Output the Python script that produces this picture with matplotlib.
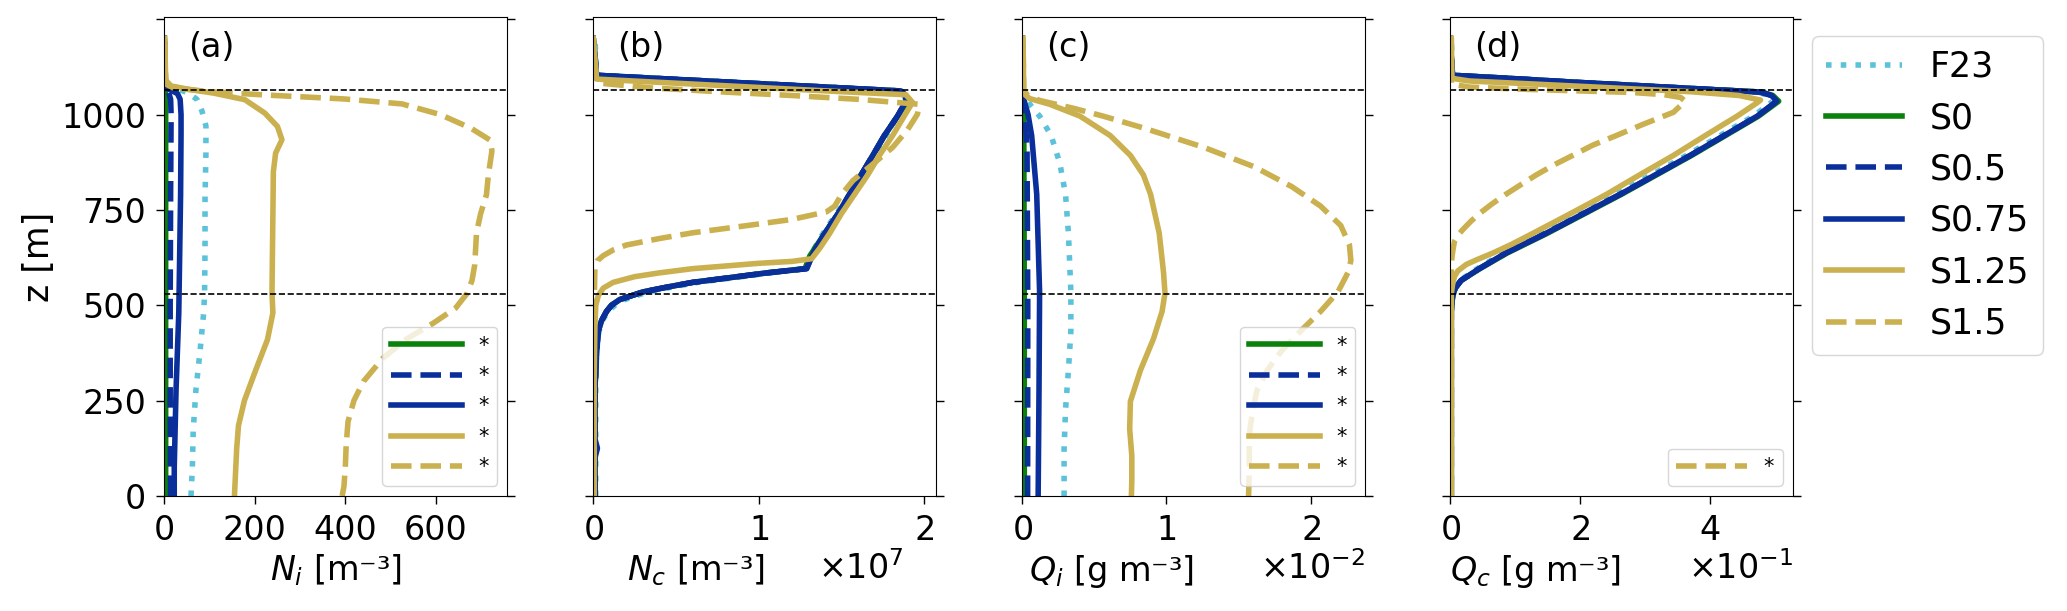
import numpy as np
import matplotlib
matplotlib.use('Agg')
import matplotlib.pyplot as plt
from matplotlib.ticker import ScalarFormatter

# reference heights (dashed lines) [m]
z_top = 1065
z_base = 530

series = ['F23', 'S0', 'S0.5', 'S0.75', 'S1.25', 'S1.5']
colors = ['#5bc2da', '#0b800b', '#0a2e9a', '#0a2e9a', '#cab04e', '#cab04e']
styles = [':', '-', '--', '-', '-', '--']

# ---- (a) ice number N_i [m-3], pairs of (z [m], value) ----
ni_f23 = [(0, 59), (75, 62), (175, 64), (280, 70), (380, 79), (480, 87), (530, 89), (650, 90),
          (780, 90), (900, 92), (970, 92), (1010, 83), (1040, 72), (1055, 55), (1065, 35),
          (1072, 8), (1080, 2), (1200, 1)]
ni_s0 = [(0, 3), (500, 3), (1000, 3), (1060, 2), (1070, 0.5), (1200, 0)]
ni_s05 = [(0, 14), (250, 13), (500, 13), (800, 14), (1000, 15), (1040, 14), (1060, 9),
          (1068, 2), (1200, 0)]
ni_s075 = [(0, 22), (75, 22), (280, 26), (480, 32), (790, 36), (950, 37), (1000, 37),
           (1040, 35), (1055, 29), (1064, 14), (1070, 3), (1200, 0)]
ni_s125 = [(0, 155), (125, 160), (185, 164), (250, 177), (330, 202), (410, 228), (480, 240),
           (531, 238), (640, 239), (740, 240), (850, 241), (899, 246), (934, 260), (969, 250),
           (1004, 222), (1039, 178), (1056, 110), (1066, 55), (1075, 15), (1090, 3), (1200, 1)]
ni_s15 = [(0, 393), (25, 397), (75, 400), (135, 402), (195, 406), (250, 419), (300, 440),
          (360, 482), (410, 533), (452, 593), (493, 644), (531, 669), (565, 680), (606, 686),
          (690, 690), (740, 699), (790, 712), (840, 716), (905, 724), (933, 720), (964, 678),
          (1000, 610), (1028, 525), (1041, 397), (1051, 228), (1060, 100), (1070, 20),
          (1080, 3), (1200, 1)]

# ---- (b) droplet number N_c [1e7 m-3] ----
nc_f23 = [(0, 0.015), (280, 0.015), (380, 0.02), (432, 0.035), (460, 0.055), (484, 0.09),
          (500, 0.13), (515, 0.19), (535, 0.33), (548, 0.48), (560, 0.63), (571, 0.83),
          (585, 1.07), (596, 1.28), (637, 1.32), (689, 1.39), (740, 1.47), (791, 1.55),
          (842, 1.62), (893, 1.70), (945, 1.77), (996, 1.84), (1035, 1.89), (1050, 1.88),
          (1062, 1.84), (1070, 1.5), (1080, 1.05), (1090, 0.6), (1103, 0.02), (1200, 0.01)]
nc_s0 = [(0, 0.01), (280, 0.01), (380, 0.02), (432, 0.03), (460, 0.05), (484, 0.08),
         (500, 0.11), (515, 0.16), (535, 0.3), (548, 0.45), (560, 0.6), (571, 0.8),
         (585, 1.05), (596, 1.28), (630, 1.31), (689, 1.40), (740, 1.48), (791, 1.55),
         (842, 1.62), (893, 1.69), (945, 1.76), (996, 1.84), (1035, 1.90), (1050, 1.89),
         (1062, 1.85), (1070, 1.5), (1080, 1.05), (1090, 0.6), (1103, 0.02), (1200, 0)]
nc_s05 = [(0, 0.01), (280, 0.01), (380, 0.02), (432, 0.03), (460, 0.05), (484, 0.08),
          (500, 0.11), (515, 0.16), (535, 0.3), (548, 0.45), (560, 0.6), (571, 0.8),
          (585, 1.05), (596, 1.29), (637, 1.33), (689, 1.40), (740, 1.48), (791, 1.55),
          (842, 1.62), (893, 1.69), (945, 1.76), (996, 1.84), (1035, 1.89), (1050, 1.89),
          (1062, 1.85), (1070, 1.5), (1080, 1.05), (1090, 0.6), (1103, 0.02), (1200, 0)]
nc_s075 = [(0, 0.01), (100, 0.01), (125, 0.025), (150, 0.01), (280, 0.01), (380, 0.02),
           (432, 0.03), (460, 0.05), (484, 0.08), (500, 0.11), (515, 0.16), (535, 0.3),
           (548, 0.45), (560, 0.6), (571, 0.8), (585, 1.05), (596, 1.29), (637, 1.33),
           (689, 1.40), (740, 1.48), (791, 1.55), (842, 1.62), (893, 1.69), (945, 1.76),
           (996, 1.84), (1035, 1.89), (1050, 1.89), (1062, 1.86), (1070, 1.5), (1080, 1.05),
           (1090, 0.6), (1103, 0.02), (1200, 0)]
nc_s125 = [(0, 0.005), (300, 0.005), (450, 0.01), (500, 0.015), (525, 0.03), (545, 0.06),
           (560, 0.12), (575, 0.25), (585, 0.4), (596, 0.6), (603, 0.8), (610, 1.0),
           (615, 1.2), (622, 1.32), (650, 1.37), (689, 1.43), (740, 1.50), (791, 1.58),
           (842, 1.66), (893, 1.73), (945, 1.81), (996, 1.88), (1032, 1.93), (1052, 1.89),
           (1060, 1.5), (1070, 1.05), (1080, 0.6), (1093, 0.02), (1200, 0)]
nc_s15 = [(0, 0.005), (500, 0.005), (600, 0.01), (617, 0.025), (630, 0.06), (645, 0.12),
          (658, 0.2), (675, 0.4), (690, 0.6), (709, 0.93), (725, 1.2), (745, 1.41),
          (760, 1.46), (790, 1.5), (827, 1.57), (870, 1.69), (914, 1.81), (960, 1.9),
          (1001, 1.96), (1027, 1.97), (1040, 1.6), (1050, 1.2), (1060, 0.75), (1070, 0.35),
          (1083, 0.02), (1200, 0)]

# ---- (c) ice mass Q_i [1e-2 g m-3] ----
qi_f23 = [(0, 0.29), (125, 0.29), (227, 0.30), (330, 0.32), (432, 0.337), (535, 0.337),
          (689, 0.32), (791, 0.30), (873, 0.26), (945, 0.20), (996, 0.12), (1037, 0.03),
          (1055, 0.005), (1200, 0.005)]
qi_s0 = [(0, 0.014), (500, 0.014), (1000, 0.01), (1050, 0.002), (1200, 0)]
qi_s05 = [(0, 0.037), (500, 0.038), (900, 0.033), (1000, 0.02), (1045, 0.005), (1200, 0)]
qi_s075 = [(0, 0.11), (280, 0.116), (535, 0.12), (791, 0.10), (945, 0.065), (1000, 0.04),
           (1040, 0.01), (1055, 0.0), (1200, 0)]
qi_s125 = [(0, 0.757), (43, 0.76), (105, 0.76), (176, 0.745), (248, 0.75), (330, 0.82),
           (412, 0.91), (484, 0.97), (532, 0.99), (586, 0.98), (689, 0.95), (791, 0.89),
           (842, 0.84), (893, 0.75), (945, 0.61), (996, 0.40), (1027, 0.19), (1042, 0.05),
           (1055, 0.01), (1200, 0.005)]
qi_s15 = [(0, 1.57), (74, 1.575), (125, 1.575), (176, 1.58), (227, 1.60), (279, 1.63),
          (330, 1.70), (381, 1.80), (432, 1.93), (484, 2.07), (535, 2.19), (586, 2.26),
          (617, 2.28), (658, 2.27), (709, 2.21), (760, 2.07), (811, 1.87), (863, 1.61),
          (914, 1.26), (965, 0.84), (996, 0.56), (1016, 0.36), (1037, 0.12), (1050, 0.04),
          (1062, 0.01), (1200, 0.005)]

# ---- (d) cloud water Q_c [1e-1 g m-3] ----
qc_f23 = [(0, 0.02), (484, 0.02), (510, 0.03), (530, 0.05), (545, 0.08), (565, 0.15),
          (596, 0.42), (637, 0.82), (689, 1.42), (740, 1.99), (791, 2.56), (842, 3.10),
          (893, 3.64), (945, 4.16), (996, 4.67), (1035, 4.97), (1050, 4.9), (1059, 4.74),
          (1065, 4.1), (1075, 3.0), (1085, 1.9), (1095, 0.9), (1103, 0.04), (1200, 0.02)]
qc_s0 = [(0, 0.02), (484, 0.02), (510, 0.03), (530, 0.05), (545, 0.08), (565, 0.17),
         (596, 0.46), (637, 0.88), (689, 1.50), (740, 2.07), (791, 2.64), (842, 3.18),
         (893, 3.72), (945, 4.24), (996, 4.75), (1035, 5.06), (1050, 4.97), (1059, 4.8),
         (1065, 4.1), (1075, 3.0), (1085, 1.9), (1095, 0.9), (1103, 0.04), (1200, 0)]
qc_s05 = [(0, 0.02), (484, 0.02), (510, 0.03), (530, 0.05), (545, 0.08), (565, 0.17),
          (596, 0.45), (637, 0.86), (689, 1.48), (740, 2.05), (791, 2.62), (842, 3.16),
          (893, 3.70), (945, 4.22), (996, 4.73), (1035, 5.03), (1050, 4.95), (1059, 4.78),
          (1065, 4.1), (1075, 3.0), (1085, 1.9), (1095, 0.9), (1103, 0.04), (1200, 0)]
qc_s075 = [(0, 0.02), (300, 0.02), (484, 0.02), (510, 0.03), (530, 0.05), (545, 0.08),
           (565, 0.17), (596, 0.45), (637, 0.86), (689, 1.48), (740, 2.05), (791, 2.62),
           (842, 3.16), (893, 3.70), (945, 4.22), (996, 4.73), (1035, 5.03), (1050, 4.95),
           (1059, 4.78), (1065, 4.1), (1075, 3.0), (1085, 1.9), (1095, 0.9), (1103, 0.04),
           (1200, 0)]
qc_s125 = [(0, 0.02), (530, 0.02), (555, 0.04), (576, 0.07), (590, 0.12), (607, 0.25),
           (620, 0.42), (637, 0.66), (660, 0.95), (689, 1.28), (740, 1.85), (791, 2.41),
           (842, 2.92), (893, 3.44), (945, 3.93), (996, 4.42), (1030, 4.72), (1038, 4.78),
           (1050, 4.45), (1060, 3.7), (1070, 2.5), (1080, 1.3), (1088, 0.3), (1095, 0.03),
           (1200, 0.02)]
qc_s15 = [(0, 0.02), (600, 0.02), (627, 0.03), (650, 0.05), (668, 0.07), (685, 0.13),
          (699, 0.2), (720, 0.32), (740, 0.45), (765, 0.64), (791, 0.86), (815, 1.08),
          (842, 1.33), (868, 1.6), (893, 1.89), (920, 2.2), (945, 2.56), (975, 2.98),
          (1006, 3.44), (1035, 3.62), (1045, 3.55), (1052, 3.3), (1058, 2.8), (1062, 2.0),
          (1066, 1.2), (1072, 0.3), (1080, 0.02), (1200, 0.02)]

panel_data = [
    [ni_f23, ni_s0, ni_s05, ni_s075, ni_s125, ni_s15],
    [nc_f23, nc_s0, nc_s05, nc_s075, nc_s125, nc_s15],
    [qi_f23, qi_s0, qi_s05, qi_s075, qi_s125, qi_s15],
    [qc_f23, qc_s0, qc_s05, qc_s075, qc_s125, qc_s15],
]
panel_scale = [1, 1e7, 1e-2, 1e-1]
panel_xlim = [758, 2.074e7, 0.0238, 0.528]
panel_xticks = [[0, 200, 400, 600], [0, 1e7, 2e7], [0, 0.01, 0.02], [0, 0.2, 0.4]]
panel_labels = ['(a)', '(b)', '(c)', '(d)']
xlabels = ['$N_i$ [m⁻³]', '$N_c$ [m⁻³]', '$Q_i$ [g m⁻³]', '$Q_c$ [g m⁻³]']

W, H = 2067, 611
fig = plt.figure(figsize=(W / 100, H / 100), dpi=100)
lefts = [164.3, 593.3, 1022.3, 1450]

for k in range(4):
    ax = fig.add_axes([lefts[k] / W, (H - 496) / H, 343 / W, 478.7 / H])
    lines = []
    for prof, c, ls, name in zip(panel_data[k], colors, styles, series):
        arr = np.array(prof, dtype=float)
        ln, = ax.plot(arr[:, 1] * panel_scale[k], arr[:, 0], color=c, ls=ls, lw=4, label=name)
        lines.append(ln)
    ax.axhline(z_top, color='k', ls='--', lw=1.2, zorder=5)
    ax.axhline(z_base, color='k', ls='--', lw=1.2, zorder=5)
    ax.set_xlim(0, panel_xlim[k])
    ax.set_ylim(0, 1255)
    ax.set_xticks(panel_xticks[k])
    ax.set_yticks([0, 250, 500, 750, 1000, 1250])
    ax.tick_params(axis='both', labelsize=24, length=6, width=1, pad=7)
    ax.tick_params(axis='y', right=True)
    ax.set_xlabel(xlabels[k], fontsize=24)
    if k == 0:
        ax.set_yticklabels(['0', '250', '500', '750', '1000', ''])
        ax.set_ylabel('z [m]', fontsize=25)
        main_lines = lines
    else:
        ax.tick_params(axis='y', labelleft=False)
        fmt = ScalarFormatter(useMathText=True)
        fmt.set_powerlimits((0, 0))
        ax.xaxis.set_major_formatter(fmt)
        ax.xaxis.get_offset_text().set_fontsize(24)
        ax.xaxis.label.set_horizontalalignment('right')
        if k == 1:
            ax.xaxis.get_offset_text().set_x(0.905)
    ax.text(0.07, 0.936, panel_labels[k], transform=ax.transAxes, fontsize=24,
            ha='left', va='center')
    if k in (0, 2):
        ax.legend(lines[1:], ['*'] * 5, loc='lower right', fontsize=15, handlelength=3.4)
    elif k == 3:
        ax.legend([lines[5]], ['*'], loc='lower right', fontsize=15, handlelength=3.4)

fig.legend(main_lines, series, loc='upper left', bbox_to_anchor=(1811.7 / W, 1 - 36 / H),
           fontsize=25, handlelength=2.2, borderaxespad=0)

fig.savefig('out.png', dpi=100)
